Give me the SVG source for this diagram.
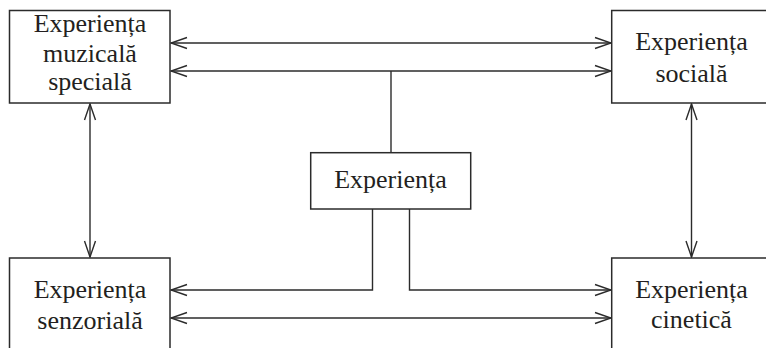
<svg xmlns="http://www.w3.org/2000/svg" width="766" height="348" viewBox="0 0 766 348">
<style>
.box{fill:#fff;stroke:#2b2b2b;stroke-width:1.5}
.t{font-family:"Liberation Serif","DejaVu Serif",serif;font-size:26px;fill:#231f20;text-anchor:middle}
.c{fill:none;stroke:#2b2b2b;stroke-width:1.4}
</style>
<defs>
<marker id="ah" viewBox="-18 -7 20 14" refX="0" refY="0" markerWidth="20" markerHeight="14" markerUnits="userSpaceOnUse" orient="auto-start-reverse">
<path d="M-16,-5.5 L0,0 L-16,5.5" fill="none" stroke="#2b2b2b" stroke-width="1.4"/>
</marker>
</defs>
<g id="connectors">
<line class="c" x1="171" y1="43" x2="611" y2="43" marker-start="url(#ah)" marker-end="url(#ah)"/>
<line class="c" x1="171" y1="71" x2="611" y2="71" marker-start="url(#ah)" marker-end="url(#ah)"/>
<line class="c" x1="391" y1="71" x2="391" y2="153"/>
<line class="c" x1="90" y1="104" x2="90" y2="257" marker-start="url(#ah)" marker-end="url(#ah)"/>
<line class="c" x1="691.5" y1="104" x2="691.5" y2="257" marker-start="url(#ah)" marker-end="url(#ah)"/>
<path class="c" d="M372.5,209 V290 H171" marker-end="url(#ah)"/>
<path class="c" d="M409.5,209 V290 H611" marker-end="url(#ah)"/>
<line class="c" x1="171" y1="318" x2="611" y2="318" marker-start="url(#ah)" marker-end="url(#ah)"/>
</g>
<g id="muzicala">
<rect class="box" x="9.5" y="10.5" width="160.5" height="92.5"/>
<text class="t" x="90" y="31.7">Experiența</text>
<text class="t" x="90" y="61.7">muzicală</text>
<text class="t" x="90" y="90">specială</text>
</g>
<g id="sociala">
<rect class="box" x="611.7" y="10.5" width="170" height="92.5"/>
<text class="t" x="691.5" y="50">Experiența</text>
<text class="t" x="691.5" y="81.7">socială</text>
</g>
<g id="experienta">
<rect class="box" x="310.7" y="152.7" width="160" height="56.3"/>
<text class="t" x="390.5" y="188.3">Experiența</text>
</g>
<g id="senzoriala">
<rect class="box" x="9.5" y="258" width="160.5" height="110"/>
<text class="t" x="90" y="298.3">Experiența</text>
<text class="t" x="90" y="329">senzorială</text>
</g>
<g id="cinetica">
<rect class="box" x="611.7" y="258" width="170" height="110"/>
<text class="t" x="691.5" y="298.3">Experiența</text>
<text class="t" x="691.5" y="328.3">cinetică</text>
</g>
</svg>
